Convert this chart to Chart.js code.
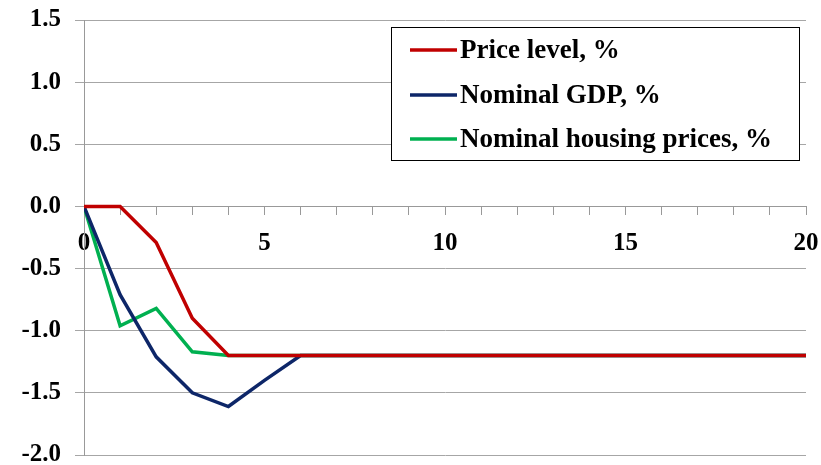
<!DOCTYPE html>
<html>
<head>
<meta charset="utf-8">
<script src="https://cdn.jsdelivr.net/npm/chart.js@4"></script>
<style>
  html, body { margin: 0; padding: 0; background: #fff; }
  #wrap { width: 821px; height: 465px; }
</style>
</head>
<body>
<div id="wrap"><canvas id="chart" width="821" height="465"></canvas></div>
<script>
// periods after the shock
const periods = [0,1,2,3,4,5,6,7,8,9,10,11,12,13,14,15,16,17,18,19,20];

// responses, % deviation
const priceLevel = [0,0,-0.29,-0.9,-1.2,-1.2,-1.2,-1.2,-1.2,-1.2,-1.2,-1.2,-1.2,-1.2,-1.2,-1.2,-1.2,-1.2,-1.2,-1.2,-1.2];
const nominalGDP = [0,-0.71,-1.21,-1.5,-1.61,-1.4,-1.2,-1.2,-1.2,-1.2,-1.2,-1.2,-1.2,-1.2,-1.2,-1.2,-1.2,-1.2,-1.2,-1.2,-1.2];
const housingPrices = [0,-0.96,-0.82,-1.17,-1.2,-1.2,-1.2,-1.2,-1.2,-1.2,-1.2,-1.2,-1.2,-1.2,-1.2,-1.2,-1.2,-1.2,-1.2,-1.2,-1.2];

const seriesNames = ['Price level, %', 'Nominal GDP, %', 'Nominal housing prices, %'];
const seriesColors = ['#c00000', '#0d2668', '#00b050'];

const FONT = '"Liberation Serif", "Times New Roman", serif';

function toPoints(vals) {
    return vals.map((v, i) => ({ x: periods[i], y: v }));
}

// drop the label overhang padding so the plot area stays where layout puts it
function noOverhang(scale) {
    scale.paddingTop = 0;
    scale.paddingBottom = 0;
    scale.paddingLeft = 0;
    scale.paddingRight = 0;
}

// boxed legend like the original, drawn on top of the plot
const boxLegend = {
    id: 'boxLegend',
    afterDraw(chart) {
        const ctx = chart.ctx;
        const left = 391, top = 27, right = 799, bottom = 160;
        ctx.save();
        ctx.fillStyle = '#fff';
        ctx.fillRect(left, top, right - left, bottom - top);
        ctx.strokeStyle = '#000';
        ctx.lineWidth = 1;
        ctx.strokeRect(left + 0.5, top + 0.5, right - left, bottom - top);
        const rows = [50, 95, 139];
        chart.data.datasets.forEach((ds, i) => {
            const y = rows[i];
            ctx.strokeStyle = ds.borderColor;
            ctx.lineWidth = 3.5;
            ctx.beginPath();
            ctx.moveTo(410, y);
            ctx.lineTo(457, y);
            ctx.stroke();
            ctx.fillStyle = '#000';
            ctx.font = 'bold 27px ' + FONT;
            ctx.textBaseline = 'middle';
            ctx.textAlign = 'left';
            ctx.fillText(ds.label, 460, y + 1);
        });
        ctx.restore();
    }
};

new Chart(document.getElementById('chart'), {
    type: 'line',
    data: {
        datasets: [
            { label: seriesNames[0], data: toPoints(priceLevel), borderColor: seriesColors[0] },
            { label: seriesNames[1], data: toPoints(nominalGDP), borderColor: seriesColors[1] },
            { label: seriesNames[2], data: toPoints(housingPrices), borderColor: seriesColors[2] }
        ]
    },
    options: {
        responsive: false,
        animation: false,
        layout: { padding: { top: 20, right: 15, bottom: 10, left: 0 } },
        elements: {
            line: { borderWidth: 3.5, tension: 0 },
            point: { radius: 0 }
        },
        plugins: {
            legend: { display: false },
            tooltip: { enabled: false }
        },
        scales: {
            x: {
                type: 'linear',
                position: { y: 0 },
                min: 0,
                max: 20,
                afterFit: noOverhang,
                grid: {
                    drawOnChartArea: false,
                    tickLength: 8,
                    color: '#999'
                },
                border: { color: '#999' },
                ticks: {
                    stepSize: 1,
                    autoSkip: false,
                    maxRotation: 0,
                    padding: 14,
                    color: '#000',
                    font: { family: FONT, size: 25, weight: 'bold' },
                    callback: v => (v % 5 === 0 ? String(v) : '')
                }
            },
            y: {
                min: -2,
                max: 1.5,
                afterFit(scale) {
                    noOverhang(scale);
                    scale.width = 84;
                },
                grid: { color: '#a6a6a6', tickLength: 9 },
                border: { color: '#999' },
                ticks: {
                    stepSize: 0.5,
                    padding: 14,
                    color: '#000',
                    font: { family: FONT, size: 25, weight: 'bold' },
                    callback: v => v.toFixed(1)
                }
            }
        }
    },
    plugins: [boxLegend]
});
</script>
</body>
</html>
